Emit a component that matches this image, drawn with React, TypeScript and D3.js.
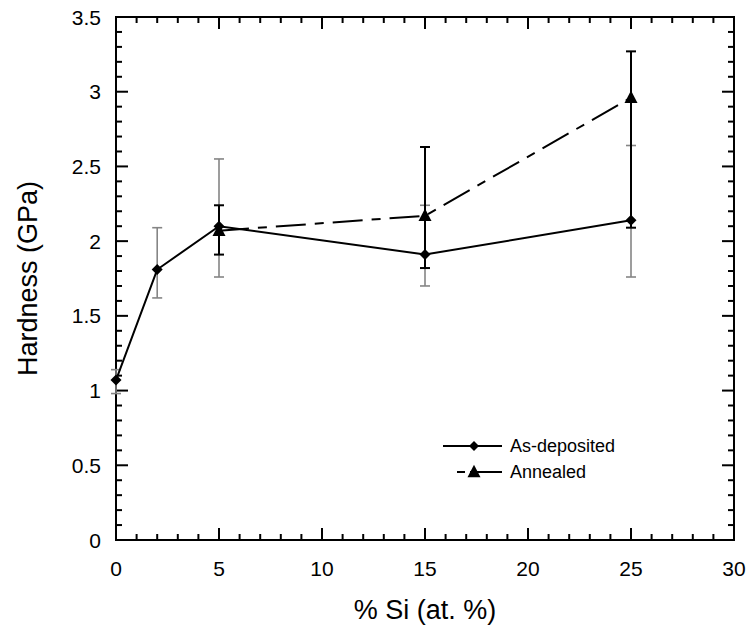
import React from "react";
import * as d3 from "d3";

const siPct = [0, 2, 5, 15, 25];
const asDeposited = [1.07, 1.81, 2.1, 1.91, 2.14];
const asDepLow = [0.98, 1.62, 1.76, 1.7, 1.76];
const asDepHigh = [1.14, 2.09, 2.55, 2.24, 2.64];

const siAnn = [5, 15, 25];
const annealed = [2.07, 2.17, 2.96];
const annLow = [1.91, 1.82, 2.09];
const annHigh = [2.24, 2.63, 3.27];

const xMajor = [0, 5, 10, 15, 20, 25, 30];
const yMajor = [0, 0.5, 1, 1.5, 2, 2.5, 3, 3.5];

const W = 752, H = 639;
const L = 116, R = 734, T = 17, B = 540;
const FONT = "'Liberation Sans', Arial, sans-serif";

export default function App() {
  const x = d3.scaleLinear().domain([0, 30]).range([L, R]);
  const y = d3.scaleLinear().domain([0, 3.5]).range([B, T]);
  const xMinor = d3.range(0, 31, 1).filter((v) => v % 5 !== 0);
  const yMinor = d3.range(0, 35, 1).map((v) => v / 10).filter((v, i) => i % 5 !== 0);
  const line = d3.line<[number, number]>().x((d) => x(d[0])).y((d) => y(d[1]));
  const asPts: [number, number][] = siPct.map((v, i) => [v, asDeposited[i]]);
  const anPts: [number, number][] = siAnn.map((v, i) => [v, annealed[i]]);
  const diamond = (cx: number, cy: number, s = 5.5) =>
    `M${cx},${cy - s}L${cx + s},${cy}L${cx},${cy + s}L${cx - s},${cy}Z`;
  const tri = (cx: number, cy: number, s = 6.5) =>
    `M${cx},${cy - s * 1.1}L${cx + s},${cy + s * 0.8}L${cx - s},${cy + s * 0.8}Z`;
  const cap = 5;
  const errBar = (xv: number, lo: number, hi: number, color: string, w: number, key: string) => (
    <g key={key} stroke={color} strokeWidth={w}>
      <line x1={x(xv)} x2={x(xv)} y1={y(lo)} y2={y(hi)} />
      <line x1={x(xv) - cap} x2={x(xv) + cap} y1={y(lo)} y2={y(lo)} />
      <line x1={x(xv) - cap} x2={x(xv) + cap} y1={y(hi)} y2={y(hi)} />
    </g>
  );
  return (
    <svg width={W} height={H} style={{ position: "absolute", left: 0, top: 0, background: "#fff" }}>
      <rect x={0} y={0} width={W} height={H} fill="#fff" />
      {/* ticks */}
      <g stroke="#000" strokeWidth={2}>
        {xMajor.map((v) => (
          <g key={"xM" + v}>
            <line x1={x(v)} x2={x(v)} y1={B} y2={B - 12} />
            <line x1={x(v)} x2={x(v)} y1={T} y2={T + 12} />
          </g>
        ))}
        {xMinor.map((v) => (
          <g key={"xm" + v}>
            <line x1={x(v)} x2={x(v)} y1={B} y2={B - 6} />
            <line x1={x(v)} x2={x(v)} y1={T} y2={T + 6} />
          </g>
        ))}
        {yMajor.map((v) => (
          <g key={"yM" + v}>
            <line x1={L} x2={L + 12} y1={y(v)} y2={y(v)} />
            <line x1={R} x2={R - 12} y1={y(v)} y2={y(v)} />
          </g>
        ))}
        {yMinor.map((v) => (
          <g key={"ym" + v}>
            <line x1={L} x2={L + 6} y1={y(v)} y2={y(v)} />
            <line x1={R} x2={R - 6} y1={y(v)} y2={y(v)} />
          </g>
        ))}
      </g>
      <rect x={L} y={T} width={R - L} height={B - T} fill="none" stroke="#000" strokeWidth={2} />
      {/* tick labels */}
      <g fontFamily={FONT} fontSize={21} fill="#000">
        {xMajor.map((v) => (
          <text key={"xl" + v} x={x(v)} y={576} textAnchor="middle">{v}</text>
        ))}
        {yMajor.map((v) => (
          <text key={"yl" + v} x={101} y={y(v) + 7.5} textAnchor="end">{v}</text>
        ))}
      </g>
      <text x={(L + R) / 2} y={619} textAnchor="middle" fontFamily={FONT} fontSize={27}>% Si (at. %)</text>
      <text transform={`translate(37,${(T + B) / 2}) rotate(-90)`} textAnchor="middle" fontFamily={FONT} fontSize={27}>Hardness (GPa)</text>
      {/* error bars */}
      {siPct.map((v, i) => errBar(v, asDepLow[i], asDepHigh[i], "#858585", 1.6, "ea" + i))}
      {siAnn.map((v, i) => errBar(v, annLow[i], annHigh[i], "#000", 2, "eb" + i))}
      {/* lines */}
      <path d={line(anPts) || ""} fill="none" stroke="#000" strokeWidth={2} strokeDasharray="30 9 9 9" />
      <path d={line(asPts) || ""} fill="none" stroke="#000" strokeWidth={2} />
      {asPts.map((d, i) => (
        <path key={"d" + i} d={diamond(x(d[0]), y(d[1]))} fill="#000" />
      ))}
      {anPts.map((d, i) => (
        <path key={"t" + i} d={tri(x(d[0]), y(d[1]))} fill="#000" />
      ))}
      {/* legend */}
      <g>
        <line x1={443} x2={502} y1={446} y2={446} stroke="#000" strokeWidth={2} />
        <path d={diamond(474, 446, 5)} fill="#000" />
        <text x={510} y={452} fontFamily={FONT} fontSize={18}>As-deposited</text>
        <line x1={457} x2={465} y1={472} y2={472} stroke="#000" strokeWidth={2} />
        <line x1={470} x2={502} y1={472} y2={472} stroke="#000" strokeWidth={2} />
        <path d={tri(474, 472, 6.5)} fill="#000" />
        <text x={510} y={478} fontFamily={FONT} fontSize={18}>Annealed</text>
      </g>
    </svg>
  );
}
